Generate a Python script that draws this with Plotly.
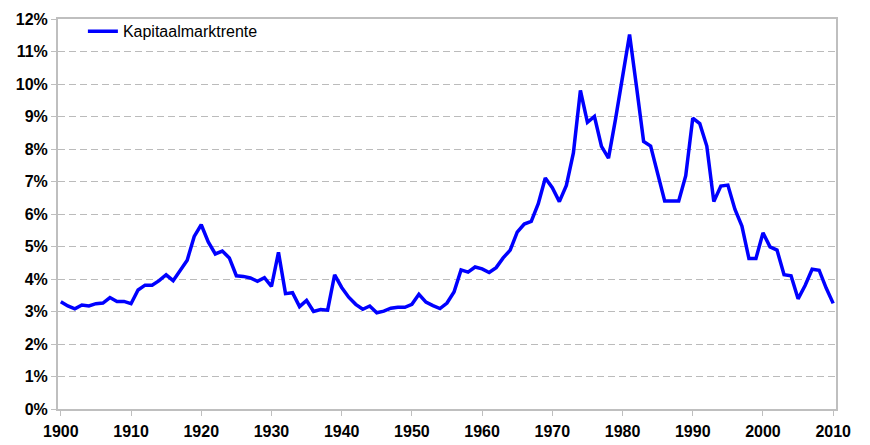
import plotly.graph_objects as go

years = list(range(1900, 2011))
rente = [
    3.30, 3.17, 3.08, 3.20, 3.17, 3.24, 3.26, 3.43, 3.31, 3.31,  # 1900-1909
    3.24, 3.66, 3.81, 3.81, 3.95, 4.13, 3.95, 4.28, 4.58, 5.31,  # 1910-1919
    5.67, 5.14, 4.77, 4.86, 4.65, 4.10, 4.08, 4.03, 3.93, 4.04,  # 1920-1929
    3.77, 4.82, 3.55, 3.58, 3.15, 3.34, 3.00, 3.06, 3.04, 4.13,  # 1930-1939
    3.74, 3.44, 3.22, 3.07, 3.17, 2.96, 3.01, 3.10, 3.13, 3.13,  # 1940-1949
    3.22, 3.53, 3.29, 3.18, 3.09, 3.26, 3.60, 4.28, 4.21, 4.37,  # 1950-1959
    4.31, 4.20, 4.35, 4.65, 4.89, 5.44, 5.69, 5.77, 6.32, 7.11,  # 1960-1969
    6.81, 6.38, 6.88, 7.88, 9.80, 8.82, 9.00, 8.08, 7.72, 8.92,  # 1970-1979
    10.22, 11.52, 9.90, 8.23, 8.09, 7.28, 6.40, 6.40, 6.40, 7.18,  # 1980-1989
    8.95, 8.78, 8.09, 6.38, 6.86, 6.89, 6.15, 5.63, 4.63, 4.63,  # 1990-1999
    5.42, 4.99, 4.89, 4.13, 4.10, 3.39, 3.80, 4.30, 4.27, 3.72,  # 2000-2009
    3.25,  # 2010
]
x_ticks = list(range(1900, 2011, 10))
y_ticks = list(range(0, 13))

fig = go.Figure()
fig.add_trace(go.Scatter(
    x=years, y=rente, mode="lines", name="Kapitaalmarktrente",
    line=dict(color="#0000FF", width=3.5),
))

axis_font = dict(family="Liberation Sans, Arial, sans-serif", size=16, color="#000000", weight="bold")

fig.update_layout(
    width=862, height=437,
    margin=dict(l=50, r=34, t=6, b=36),
    paper_bgcolor="white", plot_bgcolor="white",
    showlegend=True,
    legend=dict(
        x=0.032, y=1.012, xanchor="left", yanchor="top",
        font=dict(family="Liberation Sans, Arial, sans-serif", size=16, color="#000000"),
        bgcolor="rgba(0,0,0,0)", borderwidth=0,
    ),
    xaxis=dict(
        range=[1899.6, 2010.4], tickvals=x_ticks, ticktext=[str(t) for t in x_ticks],
        showgrid=False, zeroline=False, automargin=False,
        showline=True, linecolor="#bfbfbf", linewidth=2, mirror=True,
        ticks="outside", ticklen=5, tickcolor="#bfbfbf", tickwidth=1,
        ticklabelstandoff=2,
        tickfont=axis_font,
    ),
    yaxis=dict(
        range=[0, 12], tickvals=y_ticks, ticktext=[f"{t}%" for t in y_ticks],
        showgrid=True, gridcolor="#bbbbbb", griddash="7px,4px", gridwidth=1,
        zeroline=False, automargin=False,
        showline=True, linecolor="#bfbfbf", linewidth=2, mirror=True,
        ticks="outside", ticklen=5, tickcolor="#bfbfbf", tickwidth=1,
        tickfont=axis_font,
    ),
)

fig.write_html("out.html")
